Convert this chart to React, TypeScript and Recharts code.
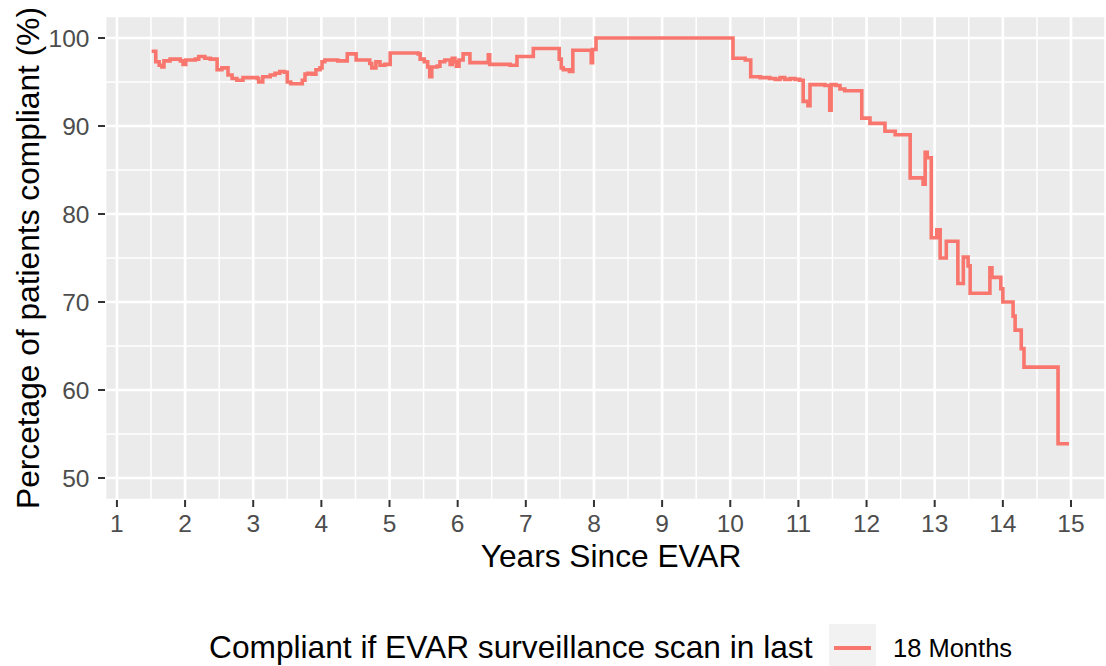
import { LineChart, Line, XAxis, YAxis, CartesianGrid } from 'recharts';

// step points (years since EVAR, % compliant)
const years = [
    1.51, 1.57, 1.62, 1.66, 1.69, 1.78, 1.93, 1.97, 2.01, 2.15, 2.2, 2.29, 2.37, 2.47, 2.54, 2.63,
    2.69, 2.76, 2.85, 3.06, 3.08, 3.14, 3.25, 3.32, 3.39, 3.46, 3.5, 3.55, 3.72, 3.76, 3.8, 3.86,
    3.92, 3.98, 4.01, 4.05, 4.24, 4.38, 4.51, 4.71, 4.74, 4.8, 4.86, 4.93, 5.01, 5.42, 5.45, 5.51,
    5.56, 5.59, 5.62, 5.7, 5.74, 5.81, 5.89, 5.92, 5.96, 5.98, 6.02, 6.08, 6.18, 6.45, 6.47, 6.62,
    6.77, 6.87, 7.11, 7.49, 7.52, 7.55, 7.64, 7.69, 7.96, 7.98, 8.03, 10.04, 10.22, 10.3, 10.44,
    10.58, 10.66, 10.73, 10.8, 10.88, 10.95, 11.02, 11.07, 11.14, 11.17, 11.39, 11.46, 11.48, 11.55,
    11.61, 11.68, 11.93, 12.05, 12.27, 12.42, 12.64, 12.83, 12.86, 12.89, 12.95, 13.03, 13.08,
    13.17, 13.34, 13.42, 13.49, 13.52, 13.81, 13.84, 13.97, 14.0, 14.15, 14.18, 14.27, 14.31,
    14.81, 14.97,
];
const compliance = [
    98.5, 97.3, 96.9, 96.7, 97.4, 97.6, 97.4, 97.0, 97.5, 97.6, 97.9, 97.7, 97.6, 96.4, 96.6, 95.8,
    95.4, 95.2, 95.5, 95.4, 95.0, 95.6, 95.8, 96.0, 96.2, 96.1, 95.0, 94.8, 95.2, 95.9, 96.0, 95.9,
    96.4, 96.6, 97.3, 97.5, 97.4, 98.2, 97.5, 97.1, 96.6, 97.3, 96.9, 97.0, 98.3, 98.2, 97.6, 97.3,
    96.7, 95.6, 96.7, 96.8, 97.3, 97.5, 97.0, 97.7, 97.3, 96.8, 97.5, 98.2, 97.2, 98.1, 97.0, 97.0,
    96.9, 97.9, 98.8, 97.6, 96.6, 96.4, 96.2, 98.6, 97.2, 98.7, 100, 97.7, 97.5, 95.6, 95.5,
    95.4, 95.3, 95.5, 95.3, 95.4, 95.3, 95.2, 92.8, 92.3, 94.7, 94.6, 91.8, 94.7, 94.6,
    94.2, 94.0, 90.9, 90.3, 89.4, 89.0, 84.1, 83.4, 87.0, 86.4, 77.3, 78.2, 75.0,
    76.9, 72.1, 75.1, 74.1, 71.0, 73.9, 72.8, 71.5, 70.0, 68.4, 66.8, 64.7, 62.6,
    53.9, 53.9,
];

const xTicks = [1, 2, 3, 4, 5, 6, 7, 8, 9, 10, 11, 12, 13, 14, 15];
const xMinorTicks = [1.5, 2.5, 3.5, 4.5, 5.5, 6.5, 7.5, 8.5, 9.5, 10.5, 11.5, 12.5, 13.5, 14.5, 15.5];
const yTicks = [50, 60, 70, 80, 90, 100];
const yMinorTicks = [55, 65, 75, 85, 95];

const seriesName = '18 Months';
const legendTitle = 'Compliant if EVAR surveillance scan in last';

const data = years.map((year, i) => ({ year, value: compliance[i] }));

const FONT = '"Liberation Sans", Arial, Helvetica, sans-serif';
const LINE_COLOR = '#F8766D';
const TITLE_SIZE = 31.7;
const xDomain = [0.825, 15.675];
const yDomain = [47.5, 102.5];

const XTitle = (props: any) => {
    const vb = props.viewBox;
    return (
        <text x={vb.x + vb.width / 2} y={vb.y + 67} textAnchor="middle" fontSize={TITLE_SIZE} fill="#000" fontFamily={FONT}>
            Years Since EVAR
        </text>
    );
};

const YTitle = (props: any) => {
    const vb = props.viewBox;
    const cx = vb.x + 39;
    const cy = vb.y + vb.height / 2;
    return (
        <text x={cx} y={cy} transform={`rotate(-90 ${cx} ${cy})`} textAnchor="middle" fontSize={TITLE_SIZE} fill="#000" fontFamily={FONT}>
            Percetage of patients compliant (%)
        </text>
    );
};

export default function App() {
    return (
        <div style={{ position: 'absolute', left: 0, top: 0, width: 1106, height: 666, overflow: 'hidden', background: '#fff', fontFamily: FONT }}>
            <LineChart width={1130} height={666} data={data} margin={{ top: 16, right: 13, bottom: 106, left: 0 }}>
                <XAxis xAxisId="minor" type="number" dataKey="year" domain={xDomain} ticks={xMinorTicks} allowDataOverflow hide />
                <YAxis yAxisId="minor" type="number" domain={yDomain} ticks={yMinorTicks} allowDataOverflow hide />
                <CartesianGrid xAxisId="minor" yAxisId="minor" fill="#EBEBEB" stroke="#FFFFFF" strokeWidth={1.5} />
                <CartesianGrid stroke="#FFFFFF" strokeWidth={2.7} />
                <XAxis
                    type="number"
                    dataKey="year"
                    domain={xDomain}
                    ticks={xTicks}
                    interval={0}
                    allowDataOverflow
                    height={60}
                    axisLine={false}
                    tickSize={7}
                    tickMargin={7.5}
                    tickLine={{ stroke: '#333333', strokeWidth: 2 }}
                    tick={{ fill: '#4D4D4D', fontSize: 24.5, fontFamily: FONT }}
                    label={{ content: XTitle }}
                />
                <YAxis
                    type="number"
                    domain={yDomain}
                    ticks={yTicks}
                    interval={0}
                    allowDataOverflow
                    width={105}
                    axisLine={false}
                    tickSize={7}
                    tickMargin={8.5}
                    tickLine={{ stroke: '#333333', strokeWidth: 2 }}
                    tick={{ fill: '#4D4D4D', fontSize: 24.5, fontFamily: FONT }}
                    label={{ content: YTitle }}
                />
                <Line
                    type="stepAfter"
                    dataKey="value"
                    name={seriesName}
                    stroke={LINE_COLOR}
                    strokeWidth={3.6}
                    dot={false}
                    activeDot={false}
                    isAnimationActive={false}
                />
            </LineChart>
            <div style={{ position: 'absolute', left: 209, top: 632, fontSize: TITLE_SIZE, lineHeight: `${TITLE_SIZE}px`, color: '#000', whiteSpace: 'nowrap' }}>
                {legendTitle}
            </div>
            <div style={{ position: 'absolute', left: 829, top: 624, width: 47, height: 47, background: '#F2F2F2' }}>
                <div style={{ position: 'absolute', left: 5, top: 22, width: 37, height: 3.5, background: LINE_COLOR }} />
            </div>
            <div style={{ position: 'absolute', left: 893, top: 635.5, fontSize: 25.5, lineHeight: '25.5px', color: '#000', whiteSpace: 'nowrap' }}>
                {seriesName}
            </div>
        </div>
    );
}
